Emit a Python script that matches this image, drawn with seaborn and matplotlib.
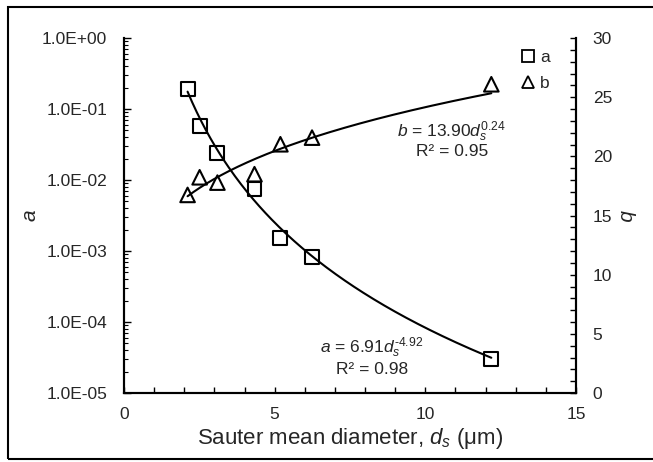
import numpy as np
import pandas as pd
import matplotlib
matplotlib.use("Agg")
import matplotlib.pyplot as plt
import matplotlib.ticker as mticker
from matplotlib.lines import Line2D
from matplotlib.patches import Rectangle
import seaborn as sns

# ---- data ----
ds = [2.11, 2.51, 3.10, 4.33, 5.19, 6.24, 12.19]
a_vals = [0.191, 0.057, 0.0243, 0.0074, 0.00154, 0.00083, 3.04e-5]
b_vals = [16.74, 18.23, 17.78, 18.49, 21.02, 21.58, 26.09]
a_coef, a_exp = 6.91, -4.92
b_coef, b_exp = 13.90, 0.24

sns.set_theme(style="white")
plt.rcParams['font.family'] = ['Liberation Sans', 'DejaVu Sans']
plt.rcParams['mathtext.fontset'] = 'custom'
plt.rcParams['mathtext.rm'] = 'Liberation Sans'
plt.rcParams['mathtext.it'] = 'Liberation Sans:italic'
plt.rcParams['mathtext.bf'] = 'Liberation Sans:bold'

fig = plt.figure(figsize=(6.53, 4.62), dpi=100)
ax = fig.add_axes([124/653, 1-393/462, (576-124)/653, (393-38)/462])
ax2 = ax.twinx()

df = pd.DataFrame({"ds": ds, "a": a_vals, "b": b_vals})
xfit = np.linspace(min(ds), max(ds), 200)
fit = pd.DataFrame({"x": xfit,
                    "a": a_coef * xfit ** a_exp,
                    "b": b_coef * xfit ** b_exp})

sns.lineplot(data=fit, x="x", y="a", ax=ax, color="black", lw=1.5)
sns.scatterplot(data=df, x="ds", y="a", ax=ax, marker="s", s=100,
                facecolor="none", edgecolor="black", linewidth=1.5, zorder=5)
sns.lineplot(data=fit, x="x", y="b", ax=ax2, color="black", lw=1.5)
sns.scatterplot(data=df, x="ds", y="b", ax=ax2, marker="^", s=110,
                facecolor="none", edgecolor="black", linewidth=1.5, zorder=5)

ax.set_yscale("log")
ax.set_ylim(1e-5, 1)
ax.set_xlim(0, 15)
ax2.set_ylim(0, 30)

ax.xaxis.set_major_locator(mticker.MultipleLocator(5))
ax.xaxis.set_minor_locator(mticker.MultipleLocator(1))
ax.yaxis.set_major_locator(mticker.LogLocator(base=10, numticks=10))
ax.yaxis.set_minor_locator(mticker.LogLocator(base=10, subs=np.arange(2, 10), numticks=20))
ax.yaxis.set_minor_formatter(mticker.NullFormatter())
ax.yaxis.set_major_formatter(mticker.FuncFormatter(lambda v, p: f"{v:.1E}"))
ax2.yaxis.set_major_locator(mticker.MultipleLocator(5))
ax2.yaxis.set_minor_locator(mticker.MultipleLocator(1))

for a_ in (ax, ax2):
    for sp in a_.spines.values():
        sp.set_color("black")
        sp.set_linewidth(1.5)
ax.spines["top"].set_visible(False)
ax2.spines["top"].set_visible(False)

ax.tick_params(axis="x", which="both", direction="in", length=4, width=1,
               color="black", labelsize=12.5, pad=10, bottom=True)
ax.tick_params(axis="y", which="major", direction="in", length=5, width=1,
               color="black", labelsize=12.5, pad=12, left=True)
ax.tick_params(axis="y", which="minor", direction="in", length=3, width=0.8,
               color="black", left=True)
ax2.tick_params(axis="y", which="both", direction="in", length=4, width=1,
                color="black", labelsize=12.5, pad=12, right=True)

ax.set_xlabel(r"Sauter mean diameter, $d_s$ ($\mathrm{\mu}$m)", fontsize=16, labelpad=3)
ax.set_ylabel("a", fontsize=15, fontstyle="italic", labelpad=2)
ax2.set_ylabel("b", fontsize=15, fontstyle="italic", rotation=270, labelpad=16)

fig.text(452/653, 1-132/462, r"$b$ = 13.90$d_s^{\mathrm{0.24}}$", ha="center", va="center", fontsize=12.5)
fig.text(452/653, 1-152/462, "R² = 0.95", ha="center", va="center", fontsize=12.5)
fig.text(372/653, 1-348/462, "$a$ = 6.91$d_s^{\\mathrm{\u20104.92}}$", ha="center", va="center", fontsize=12.5)
fig.text(372/653, 1-369/462, "R² = 0.98", ha="center", va="center", fontsize=12.5)

handles = [Line2D([], [], ls="none", marker="s", ms=9, mfc="none", mec="black", mew=1.3),
           Line2D([], [], ls="none", marker="^", ms=9, mfc="none", mec="black", mew=1.3)]
fig.legend(handles, ["a", "b"], loc="upper left", bbox_to_anchor=(521/653, 1-50/462),
           frameon=False, fontsize=12.5, handlelength=0.8, handletextpad=0.3,
           labelspacing=0.6, borderpad=0, borderaxespad=0)

fig.patches.append(Rectangle((8/653, 3/462), 1.2, 452/462, transform=fig.transFigure,
                             fill=False, edgecolor="black", linewidth=1.5))

fig.savefig("out.png", dpi=100)
